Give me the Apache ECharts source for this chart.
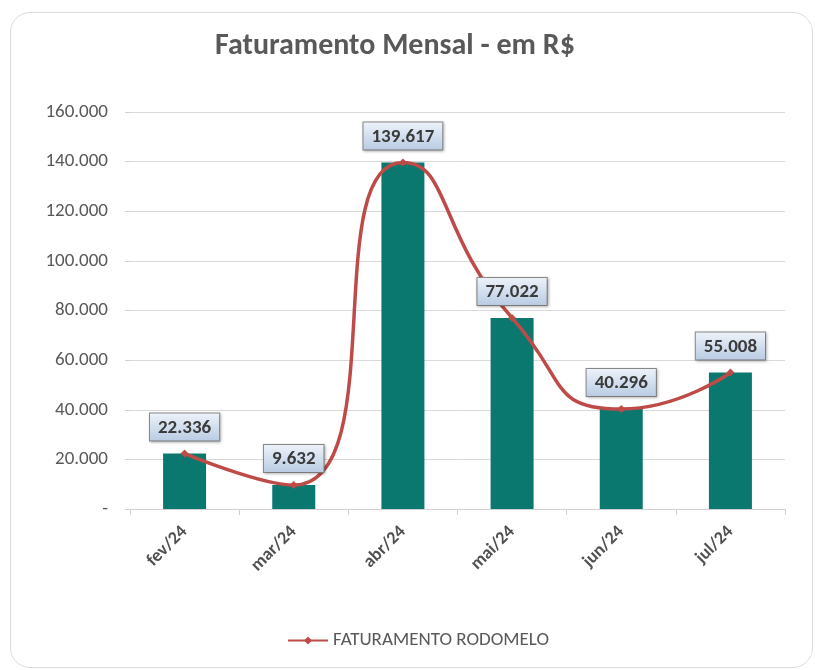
<!DOCTYPE html>
<html>
<head>
<meta charset="utf-8">
<script src="https://cdn.jsdelivr.net/npm/echarts@6/dist/echarts.min.js"></script>
<style>
    html, body { margin: 0; padding: 0; background: #fff; }
    #frame {
        position: absolute; left: 10px; top: 12px; width: 803px; height: 656px;
        border: 1px solid #dcdcdc; border-radius: 20px; box-sizing: border-box;
    }
    #chartBox { position: absolute; left: 0; top: 0; width: 815px; height: 670px; }
</style>
</head>
<body>
<div id="frame"></div>
<div id="chartBox"></div>
<script>
// dados do gráfico
const meses = ['fev/24', 'mar/24', 'abr/24', 'mai/24', 'jun/24', 'jul/24'];
const faturamento = [22336, 9632, 139617, 77022, 40296, 55008];
const nomeSerie = 'FATURAMENTO RODOMELO';

function fmt(v) {
    return String(Math.round(v)).replace(/\B(?=(\d{3})+(?!\d))/g, '.');
}

const chartDom = document.getElementById('chartBox');
let myChart = echarts.init(chartDom);
const fonte = 'Carlito, "Open Sans", sans-serif';

let option = {
    animation: false,
    title: {
        text: 'Faturamento Mensal - em R$',
        left: 210,
        top: 26,
        textStyle: {
            fontFamily: fonte,
            fontSize: 30,
            fontWeight: 'bold',
            color: '#595959'
        }
    },
    grid: {
        left: 130,
        right: 30,
        top: 112,
        bottom: 161
    },
    legend: {
        left: 282,
        top: 626,
        itemWidth: 40,
        itemHeight: 10,
        itemGap: 3,
        data: [nomeSerie],
        textStyle: {
            fontFamily: fonte,
            fontSize: 19,
            color: '#595959'
        }
    },
    xAxis: {
        type: 'category',
        data: meses,
        axisLine: { lineStyle: { color: '#d0d0d0' } },
        axisTick: { show: true, length: 6, lineStyle: { color: '#d0d0d0' } },
        axisLabel: {
            rotate: 45,
            margin: 20,
            fontFamily: fonte,
            fontSize: 18,
            fontWeight: 'bold',
            color: '#505050'
        }
    },
    yAxis: {
        type: 'value',
        min: 0,
        max: 160000,
        interval: 20000,
        axisLine: { show: false },
        axisTick: { show: true, length: 5, lineStyle: { color: '#d0d0d0' } },
        splitLine: { lineStyle: { color: '#d9d9d9' } },
        axisLabel: {
            margin: 22,
            fontFamily: fonte,
            fontSize: 19,
            color: '#595959',
            formatter: v => v === 0 ? '-' : fmt(v)
        }
    },
    series: [
        {
            name: 'barras',
            type: 'bar',
            data: faturamento,
            barWidth: 43,
            itemStyle: { color: '#0A786F' },
            z: 2
        },
        {
            name: nomeSerie,
            type: 'line',
            data: faturamento,
            smooth: 0.6,
            symbol: 'diamond',
            symbolSize: 8,
            itemStyle: { color: '#BE4B48' },
            lineStyle: { width: 3.5, color: '#BE4B48' },
            z: 3,
            label: {
                show: true,
                position: 'top',
                distance: 9,
                formatter: p => fmt(p.value),
                fontFamily: fonte,
                fontSize: 19,
                fontWeight: 'bold',
                color: '#3b3b3b',
                padding: [5, 8, 3, 8],
                borderColor: '#8a8a8a',
                borderWidth: 1,
                shadowColor: 'rgba(0,0,0,0.25)',
                shadowBlur: 3,
                shadowOffsetX: 1,
                shadowOffsetY: 1,
                backgroundColor: new echarts.graphic.LinearGradient(0, 0, 0, 1, [
                    { offset: 0, color: '#eef3fa' },
                    { offset: 1, color: '#b8cbe3' }
                ])
            }
        }
    ]
};
myChart.setOption(option);
</script>
</body>
</html>
